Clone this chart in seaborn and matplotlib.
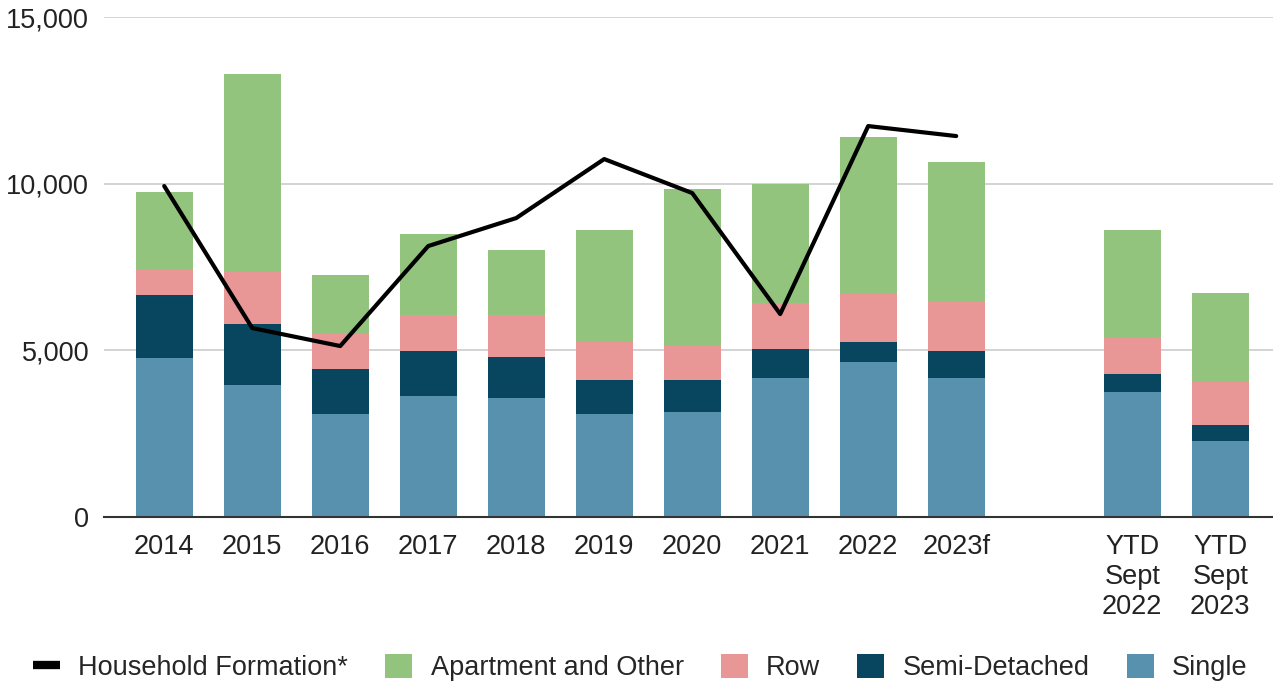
import matplotlib
matplotlib.use("Agg")

import numpy as np
import pandas as pd
import matplotlib.pyplot as plt
import seaborn as sns
from matplotlib.lines import Line2D
from matplotlib.patches import Patch
from matplotlib.ticker import FuncFormatter

# categories ("" is the empty gap slot)
categories = ["2014", "2015", "2016", "2017", "2018", "2019", "2020", "2021", "2022",
              "2023f", "", "YTD\nSept\n2022", "YTD\nSept\n2023"]

# housing starts by type (NaN for the gap)
single = [4770, 3960, 3090, 3630, 3570, 3090, 3150, 4170, 4650, 4170, np.nan, 3750, 2280]
semi = [1890, 1830, 1350, 1350, 1230, 1020, 960, 870, 600, 810, np.nan, 540, 480]
row = [780, 1560, 1080, 1080, 1260, 1140, 1050, 1380, 1440, 1500, np.nan, 1110, 1290]
apartment = [2310, 5940, 1740, 2430, 1950, 3360, 4680, 3570, 4710, 4170, np.nan, 3210, 2670]

# household formation line (2014 - 2023f)
household_years = ["2014", "2015", "2016", "2017", "2018", "2019", "2020", "2021", "2022", "2023f"]
household = [9930, 5670, 5130, 8130, 8970, 10740, 9720, 6090, 11730, 11430]

COLORS = {
    "Single": "#5891ae",
    "Semi-Detached": "#08465f",
    "Row": "#e89796",
    "Apartment and Other": "#93c47d",
}

sns.set_theme(style="white")
plt.rcParams["font.family"] = ["Liberation Sans", "DejaVu Sans"]
FS = 19.5

df = pd.DataFrame({
    "cat": categories,
    "Single": single,
    "Semi-Detached": semi,
    "Row": row,
    "Apartment and Other": apartment,
})
layers = ["Single", "Semi-Detached", "Row", "Apartment and Other"]
cum = df[layers].cumsum(axis=1)

fig = plt.figure(figsize=(12.73, 6.83), dpi=100)
ax = fig.add_axes([0.082, 0.243, 0.918, 0.732])

# draw from the top layer down so each cumulative bar covers the one above it
for layer in reversed(layers):
    sns.barplot(x=df["cat"], y=cum[layer], order=categories, color=COLORS[layer],
                width=0.65, saturation=1, linewidth=0, ax=ax, zorder=2)

xpos = [categories.index(y) for y in household_years]
sns.lineplot(x=xpos, y=household, color="black", lw=3.0, ax=ax, zorder=4)

ax.set_ylim(0, 15000)
ax.set_xlim(-0.68, 12.6)
ax.set_yticks([0, 5000, 10000, 15000])
ax.yaxis.set_major_formatter(FuncFormatter(lambda v, p: f"{int(v):,}"))
ax.set_xlabel("")
ax.set_ylabel("")
ax.grid(axis="y", color="#cccccc", lw=1.2, zorder=0)
ax.set_axisbelow(True)
for s in ["top", "right", "left"]:
    ax.spines[s].set_visible(False)
ax.spines["bottom"].set_color("#333333")
ax.spines["bottom"].set_linewidth(1.5)
ax.spines["bottom"].set_zorder(5)
ax.tick_params(axis="x", length=0, pad=12, labelsize=FS, labelcolor="#222222")
ax.tick_params(axis="y", length=0, pad=11, labelsize=FS, labelcolor="#222222")
for t in ax.get_xticklabels():
    t.set_linespacing(1.2)

handles = [Line2D([0], [0], color="black", lw=6, solid_capstyle="butt")]
labels = ["Household Formation*"]
for layer in ["Apartment and Other", "Row", "Semi-Detached", "Single"]:
    handles.append(Patch(facecolor=COLORS[layer], edgecolor="none"))
    labels.append(layer)
fig.legend(handles, labels, loc="center", bbox_to_anchor=(0.503, 0.022), ncol=5,
           frameon=False, fontsize=FS, handlelength=1.0, handleheight=0.95,
           columnspacing=1.37, handletextpad=0.67, borderaxespad=0, borderpad=0)

fig.savefig("out.png", dpi=100)
